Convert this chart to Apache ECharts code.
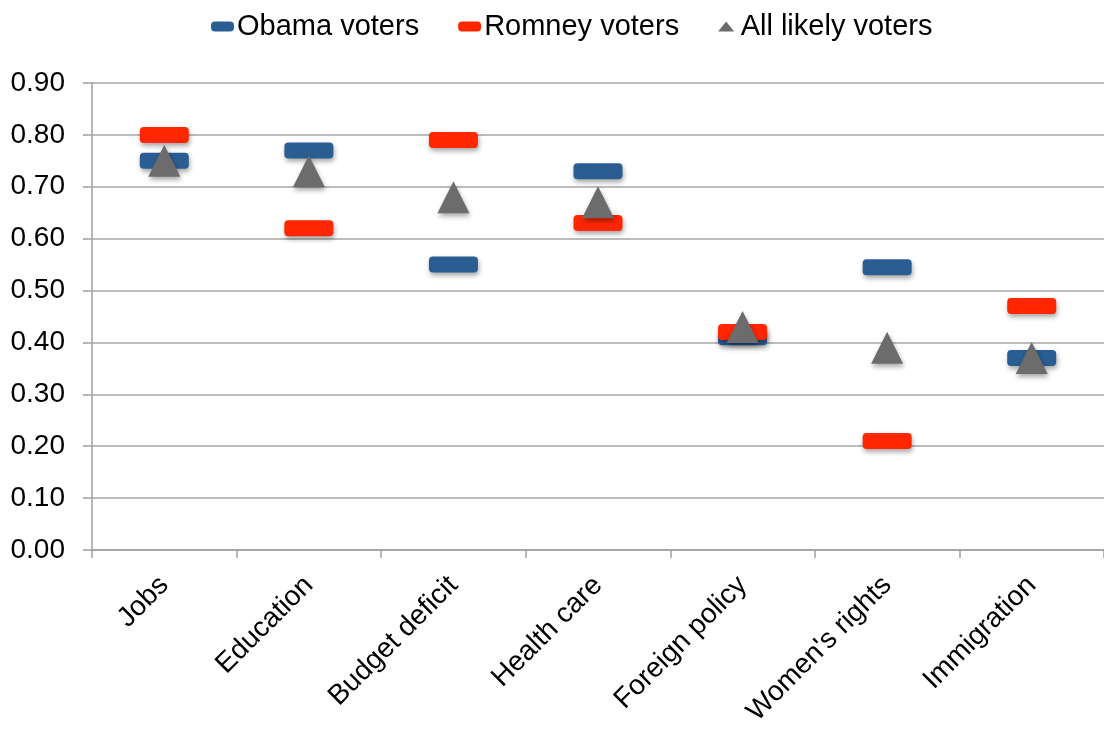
<!DOCTYPE html>
<html>
<head>
<meta charset="utf-8">
<style>
  html, body { margin: 0; padding: 0; background: #ffffff; }
  #chart { width: 1104px; height: 730px; }
</style>
<script src="https://cdn.jsdelivr.net/npm/echarts@6/dist/echarts.min.js"></script>
</head>
<body>
<div id="chart"></div>
<script>
// Issues and the share of each voter group rating them as important
const categories = ['Jobs', 'Education', 'Budget deficit', 'Health care', 'Foreign policy', "Women's rights", 'Immigration'];
const obamaVoters = [0.75, 0.77, 0.55, 0.73, 0.41, 0.545, 0.37];
const romneyVoters = [0.80, 0.62, 0.79, 0.63, 0.42, 0.21, 0.47];
const allLikelyVoters = [0.75, 0.73, 0.68, 0.67, 0.43, 0.39, 0.37];
const yTicks = [0, 0.1, 0.2, 0.3, 0.4, 0.5, 0.6, 0.7, 0.8, 0.9];

const FONT = '"Liberation Sans", Arial, Helvetica, sans-serif';
const BLUE = '#2a5d92';
const RED = '#ff2600';
const GREY = '#6c6c6c';
// rectangle with small rounded corners, stretched to the symbol size
const BAR_PATH = 'path://M4,0H45Q49,0 49,4V12Q49,16 45,16H4Q0,16 0,12V4Q0,0 4,0Z';
const LEGEND_BAR_PATH = 'path://M4,0H19Q23,0 23,4V6Q23,10 19,10H4Q0,10 0,6V4Q0,0 4,0Z';
const TRI_PATH = 'path://M8,0L16,10L0,10Z';

const shadow = {
  shadowBlur: 5,
  shadowOffsetX: 1,
  shadowOffsetY: 3,
  shadowColor: 'rgba(0,0,0,0.35)'
};

const chart = echarts.init(document.getElementById('chart'), null, { renderer: 'canvas' });

chart.setOption({
  animation: false,
  backgroundColor: '#ffffff',
  textStyle: { fontFamily: FONT },
  legend: {
    top: 7,
    left: 206,
    itemWidth: 23,
    itemHeight: 10,
    itemGap: 39,
    textStyle: { fontFamily: FONT, fontSize: 29, color: '#000000', padding: [0, 0, 0, -2] },
    data: [
      { name: 'Obama voters', icon: LEGEND_BAR_PATH, itemStyle: { color: BLUE } },
      { name: 'Romney voters', icon: LEGEND_BAR_PATH, itemStyle: { color: RED } },
      { name: 'All likely voters', icon: TRI_PATH, itemStyle: { color: GREY } }
    ]
  },
  grid: {
    left: 92,
    right: -5,
    top: 83,
    bottom: 180,
    containLabel: false
  },
  xAxis: {
    type: 'category',
    data: categories,
    boundaryGap: true,
    axisLine: { show: true, lineStyle: { color: '#a0a0a0', width: 1.5 } },
    axisTick: { show: true, alignWithLabel: false, length: 8, lineStyle: { color: '#a0a0a0', width: 1.5 } },
    axisLabel: {
      rotate: 45,
      interval: 0,
      margin: 31,
      fontFamily: FONT,
      fontSize: 28,
      color: '#000000'
    },
    splitLine: { show: false }
  },
  yAxis: {
    type: 'value',
    min: yTicks[0],
    max: yTicks[yTicks.length - 1],
    interval: 0.1,
    axisLine: { show: true, lineStyle: { color: '#a0a0a0', width: 1.5 } },
    axisTick: { show: true, inside: false, length: 9, lineStyle: { color: '#a0a0a0', width: 1.5 } },
    axisLabel: {
      margin: 27,
      fontFamily: FONT,
      fontSize: 28,
      color: '#000000',
      formatter: v => v.toFixed(2)
    },
    splitLine: { show: true, lineStyle: { color: '#a6a6a6', width: 1.5 } }
  },
  series: [
    {
      name: 'Obama voters',
      type: 'scatter',
      data: obamaVoters,
      symbol: BAR_PATH,
      symbolSize: [49, 16],
      itemStyle: Object.assign({ color: BLUE, opacity: 1 }, shadow),
      z: 2
    },
    {
      name: 'Romney voters',
      type: 'scatter',
      data: romneyVoters,
      symbol: BAR_PATH,
      symbolSize: [49, 16],
      itemStyle: Object.assign({ color: RED, opacity: 1 }, shadow),
      z: 3
    },
    {
      name: 'All likely voters',
      type: 'scatter',
      data: allLikelyVoters,
      symbol: 'triangle',
      symbolSize: [32, 32],
      itemStyle: Object.assign({ color: GREY, opacity: 1 }, shadow),
      z: 4
    }
  ]
});
</script>
</body>
</html>
